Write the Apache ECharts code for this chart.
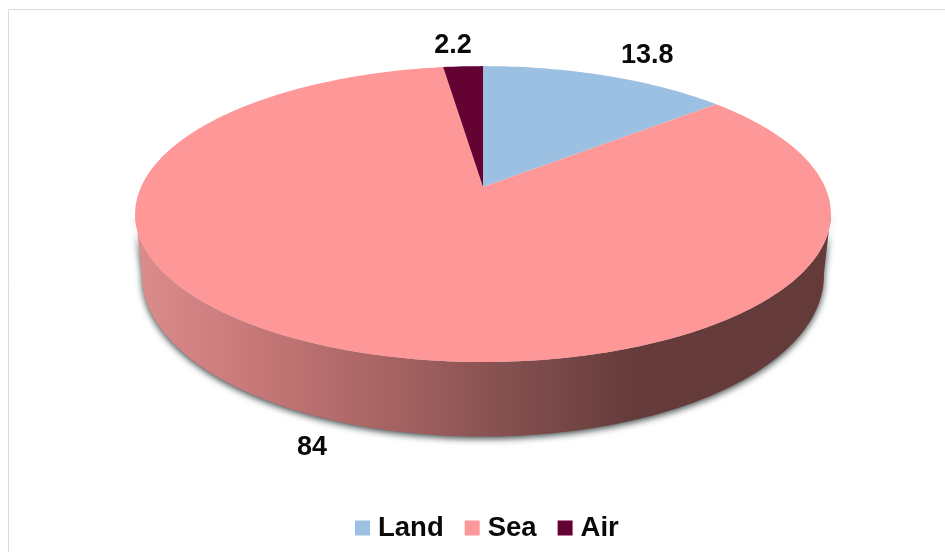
<!DOCTYPE html>
<html>
<head>
<meta charset="utf-8">
<style>html,body{margin:0;padding:0;background:#fff}#c{width:945px;height:552px}</style>
<script src="https://cdn.jsdelivr.net/npm/echarts@6/dist/echarts.min.js"></script>
</head>
<body>
<div id="c"></div>
<script>
const categories = ['Land', 'Sea', 'Air'];
const values = [13.8, 84, 2.2];
const sliceColors = ['#9bc0e2', '#fe9797', '#650234'];
const labelOffsets = [[41, -20], [-24, 99], [-10, -21]];

// projection of the tilted disc
const cx = 483, cy = 187, A = 342, B = 143, P = 0.183;
const wallScale = 0.98, dropBase = 58, dropFront = 20;
const wallFrom = 100, wallTo = 260;
const total = values.reduce((a, b) => a + b, 0);

function project(deg, r, lowered) {
  const t = deg * Math.PI / 180, s = Math.sin(t), c = Math.cos(t);
  const w = 1 + P * c;
  const drop = lowered ? dropBase - dropFront * c : 0;
  return [cx + r * A * s / w, cy + drop - r * B * c / w];
}
function arc(a, b, r, lowered) {
  const pts = [];
  const n = Math.max(2, Math.ceil(Math.abs(b - a)));
  for (let i = 0; i <= n; i++) pts.push(project(a + (b - a) * i / n, r, lowered));
  return pts;
}
const wallFill = {
  type: 'linear', global: true, x: 140, y: 0, x2: 826, y2: 0,
  colorStops: [
    { offset: 0, color: '#dc8b8b' },
    { offset: 0.2, color: '#c27474' },
    { offset: 0.4, color: '#a05f5f' },
    { offset: 0.55, color: '#824e4e' },
    { offset: 0.72, color: '#663b3b' },
    { offset: 1, color: '#653b3a' }
  ]
};
function makeSeries(idx) {
  const start = values.slice(0, idx).reduce((a, b) => a + b, 0) / total * 360;
  const end = start + values[idx] / total * 360;
  return {
    type: 'custom',
    name: categories[idx],
    coordinateSystem: 'none',
    animation: false,
    silent: true,
    itemStyle: { color: sliceColors[idx] },
    data: [values[idx]],
    z: 2,
    renderItem: function () {
      const children = [];
      const from = Math.max(start, wallFrom), to = Math.min(end, wallTo);
      if (to > from) {
        const upper = arc(from, to, 1, false);
        const lower = arc(to, from, wallScale, true);
        children.push({
          type: 'polygon', z2: 1,
          shape: { points: upper.concat(lower) },
          style: { fill: wallFill, shadowBlur: 7, shadowColor: 'rgba(35,45,45,0.9)', shadowOffsetX: 0, shadowOffsetY: 2 }
        });
      }
      const top = [[cx, cy]].concat(arc(start, end, 1, false));
      children.push({
        type: 'polygon', z2: 5,
        shape: { points: top },
        style: { fill: sliceColors[idx] }
      });
      const mid = project((start + end) / 2, 1, false);
      children.push({
        type: 'text', z2: 10,
        x: mid[0] + labelOffsets[idx][0],
        y: mid[1] + labelOffsets[idx][1],
        style: {
          text: String(values[idx]), fill: '#0a0a0a',
          font: 'bold 27px "Liberation Sans", Arial, sans-serif',
          align: 'center', verticalAlign: 'middle'
        }
      });
      return { type: 'group', children: children };
    }
  };
}
const chart = echarts.init(document.getElementById('c'), null, { renderer: 'canvas' });
chart.setOption({
  animation: false,
  backgroundColor: '#fff',
  legend: {
    data: categories,
    left: 355, top: 514,
    padding: 0,
    icon: 'rect',
    itemWidth: 15, itemHeight: 15, itemGap: 21,
    selectedMode: false,
    textStyle: { color: '#0a0a0a', fontSize: 27.5, fontWeight: 'bold', fontFamily: '"Liberation Sans", Arial, sans-serif', padding: [0, 0, 0, 3] }
  },
  graphic: [{
    type: 'rect', silent: true, z: 0,
    shape: { x: 8.5, y: 9.5, width: 960, height: 600 },
    style: { fill: 'none', stroke: '#dcdcdc', lineWidth: 1 }
  }],
  series: categories.map((_, i) => makeSeries(i))
});
</script>
</body>
</html>
